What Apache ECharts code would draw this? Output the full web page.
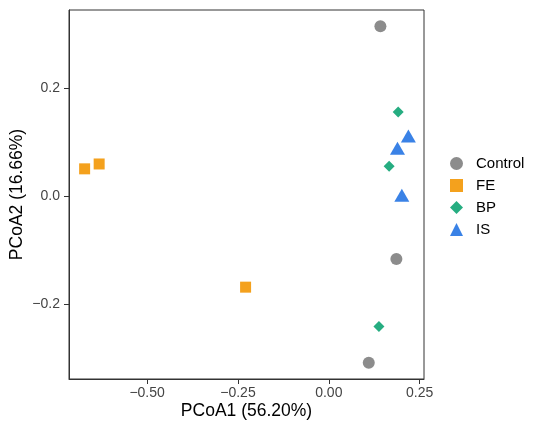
<!DOCTYPE html>
<html>
<head>
<meta charset="utf-8">
<script src="https://cdn.jsdelivr.net/npm/echarts@6/dist/echarts.min.js"></script>
<style>
  html, body { margin: 0; padding: 0; background: #fff; }
  #main { width: 550px; height: 433px; }
</style>
</head>
<body>
<div id="main"></div>
<script>
// PCoA coordinates, [PCoA1, PCoA2]
var controlPts = [[0.142, 0.315], [0.186, -0.116], [0.110, -0.308]];
var fePts = [[-0.672, 0.051], [-0.632, 0.060], [-0.229, -0.168]];
var bpPts = [[0.191, 0.156], [0.166, 0.056], [0.138, -0.241]];
var isPts = [[0.219, 0.112], [0.189, 0.089], [0.201, 0.002]];

var groups = ['Control', 'FE', 'BP', 'IS'];
var colors = ['#8c8c8c', '#f4a11d', '#26ad81', '#3a82e6'];

var xTicks = [-0.5, -0.25, 0, 0.25];
var xTickLabels = ['\u22120.50', '\u22120.25', '0.00', '0.25'];
var yTicks = [-0.2, 0, 0.2];
var yTickLabels = ['\u22120.2', '0.0', '0.2'];

var font = 'Liberation Sans, Arial, Helvetica, sans-serif';

function tickLabel(ticks, labels) {
  return function (v) {
    for (var i = 0; i < ticks.length; i++) {
      if (Math.abs(ticks[i] - v) < 1e-9) return labels[i];
    }
    return '';
  };
}

var chart = echarts.init(document.getElementById('main'));

var option = {
  animation: false,
  textStyle: { fontFamily: font },
  grid: {
    left: 69,
    right: 126,
    top: 10,
    bottom: 54,
    outerBoundsMode: 'none',
    show: true,
    borderColor: '#333333',
    borderWidth: 1,
    backgroundColor: '#ffffff'
  },
  legend: {
    orient: 'vertical',
    left: 450,
    top: 156,
    padding: 0,
    itemWidth: 13,
    itemHeight: 13,
    itemGap: 7,
    textStyle: { fontSize: 15, color: '#000', fontFamily: font, padding: [0, 0, 0, 8] },
    data: groups
  },
  xAxis: {
    type: 'value',
    min: -0.715,
    max: 0.262,
    name: 'PCoA1 (56.20%)',
    nameLocation: 'middle',
    nameGap: 23,
    nameMoveOverlap: false,
    nameTextStyle: { fontSize: 17.5, color: '#000', fontFamily: font },
    splitLine: { show: false },
    axisLine: { show: true, onZero: false, lineStyle: { color: '#333333', width: 1 } },
    axisTick: { show: true, length: 5, customValues: xTicks, lineStyle: { color: '#333333' } },
    axisLabel: {
      customValues: xTicks,
      margin: 7,
      fontSize: 14,
      color: '#444444',
      fontFamily: font,
      formatter: tickLabel(xTicks, xTickLabels)
    }
  },
  yAxis: {
    type: 'value',
    min: -0.338,
    max: 0.345,
    name: 'PCoA2 (16.66%)',
    nameLocation: 'middle',
    nameRotate: 90,
    nameGap: 43,
    nameMoveOverlap: false,
    nameTextStyle: { fontSize: 17.5, color: '#000', fontFamily: font },
    splitLine: { show: false },
    axisLine: { show: true, onZero: false, lineStyle: { color: '#333333', width: 1 } },
    axisTick: { show: true, length: 5, customValues: yTicks, lineStyle: { color: '#333333' } },
    axisLabel: {
      customValues: yTicks,
      margin: 9,
      fontSize: 14,
      color: '#444444',
      fontFamily: font,
      formatter: tickLabel(yTicks, yTickLabels)
    }
  },
  series: [
    { name: 'Control', type: 'scatter', symbol: 'circle', symbolSize: 12, data: controlPts,
      itemStyle: { color: colors[0], opacity: 1 } },
    { name: 'FE', type: 'scatter', symbol: 'rect', symbolSize: 11, data: fePts,
      itemStyle: { color: colors[1], opacity: 1 } },
    { name: 'BP', type: 'scatter', symbol: 'diamond', symbolSize: 11, data: bpPts,
      itemStyle: { color: colors[2], opacity: 1 } },
    { name: 'IS', type: 'scatter', symbol: 'triangle', symbolSize: [15, 13], data: isPts,
      itemStyle: { color: colors[3], opacity: 1 } }
  ]
};

chart.setOption(option);
</script>
</body>
</html>
